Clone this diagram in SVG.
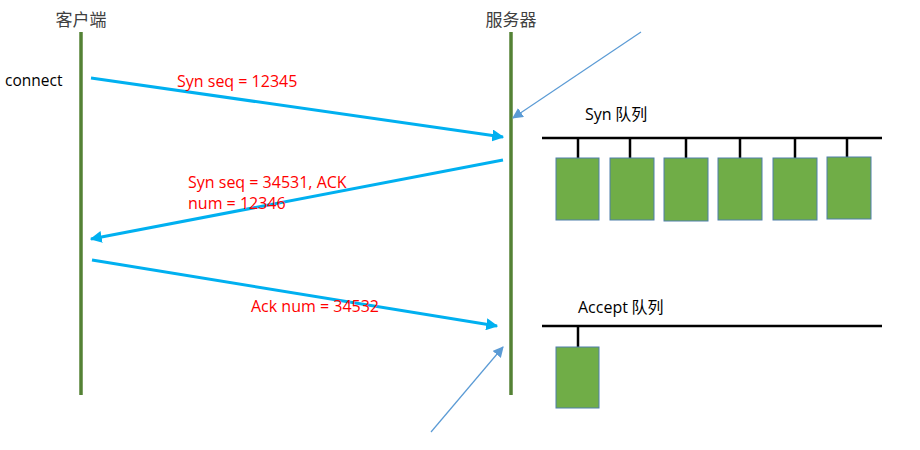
<svg xmlns="http://www.w3.org/2000/svg" width="920" height="450" viewBox="0 0 920 450">
<defs>
<style>
.cjk{font-family:"Noto Sans CJK SC","Noto Sans",sans-serif;font-size:17px;fill:#404040}
.lbl{font-family:"Open Sans","Liberation Sans",sans-serif;font-size:15px}
.red{fill:#ff0000;font-size:16px}
.life{stroke:#548235;stroke-width:3.5}
.msg{stroke:#00b0f0;stroke-width:3;fill:none}
.ptr{stroke:#5b9bd5;stroke-width:1.2;fill:none}
.bar{stroke:#000;stroke-width:2.5}
.box{fill:#70ad47;stroke:#4e7faa;stroke-width:1}
</style>
<marker id="ah" viewBox="0 0 10 10" refX="9" refY="5" markerWidth="4" markerHeight="4" orient="auto" markerUnits="strokeWidth">
<path d="M0,0 L10,5 L0,10 z" fill="#00b0f0"/>
</marker>
<marker id="ah2" viewBox="0 0 10 10" refX="9" refY="5" markerWidth="9" markerHeight="9" orient="auto" markerUnits="strokeWidth">
<path d="M0,0 L10,5 L0,10 z" fill="#5b9bd5"/>
</marker>
</defs>
<rect width="920" height="450" fill="#fff"/>

<g id="client">
<text class="cjk" x="81" y="26" text-anchor="middle">客户端</text>
<line class="life" x1="81" y1="32" x2="81" y2="395"/>
<text class="lbl" x="5" y="86" fill="#000" style="font-size:15.5px">connect</text>
</g>

<g id="server">
<text class="cjk" x="511" y="26" text-anchor="middle">服务器</text>
<line class="life" x1="511" y1="32" x2="511" y2="395"/>
</g>

<g id="syn-queue">
<text class="cjk" x="585" y="120" style="font-size:16px;fill:#000"><tspan font-family="Open Sans, Liberation Sans, sans-serif">Syn</tspan> 队列</text>
<line class="bar" x1="542" y1="138" x2="882" y2="138"/>
<line class="bar" x1="578" y1="138" x2="578" y2="158"/>
<line class="bar" x1="630" y1="138" x2="630" y2="160"/>
<line class="bar" x1="686" y1="138" x2="686" y2="160"/>
<line class="bar" x1="740" y1="138" x2="740" y2="158"/>
<line class="bar" x1="795" y1="138" x2="795" y2="158"/>
<line class="bar" x1="847" y1="138" x2="847" y2="157"/>
<rect class="box" x="556" y="158" width="43" height="62"/>
<rect class="box" x="610" y="158" width="44" height="62"/>
<rect class="box" x="664" y="158" width="44" height="63"/>
<rect class="box" x="718" y="158" width="44" height="62"/>
<rect class="box" x="773" y="158" width="44" height="62"/>
<rect class="box" x="827" y="157" width="44" height="62"/>
</g>

<g id="accept-queue">
<text class="cjk" x="578" y="313" style="font-size:16px;fill:#000"><tspan font-family="Open Sans, Liberation Sans, sans-serif">Accept</tspan> 队列</text>
<line class="bar" x1="542" y1="326" x2="882" y2="326"/>
<line class="bar" x1="578" y1="326" x2="578" y2="347"/>
<rect class="box" x="556" y="347" width="43" height="61"/>
</g>

<g id="connectors">
<line class="msg" x1="91" y1="78" x2="503" y2="137" marker-end="url(#ah)"/>
<text class="lbl red" x="177" y="87">Syn seq = 12345</text>
<line class="msg" x1="503" y1="160" x2="91" y2="239" marker-end="url(#ah)"/>
<text class="lbl red" x="188" y="188">Syn seq = 34531, ACK</text>
<text class="lbl red" x="188" y="209">num = 12346</text>
<line class="msg" x1="92" y1="260" x2="497" y2="326" marker-end="url(#ah)"/>
<text class="lbl red" x="251" y="312">Ack num = 34532</text>
<line class="ptr" x1="641" y1="32" x2="513" y2="118" marker-end="url(#ah2)"/>
<line class="ptr" x1="431" y1="432" x2="503" y2="347" marker-end="url(#ah2)"/>
</g>
</svg>
